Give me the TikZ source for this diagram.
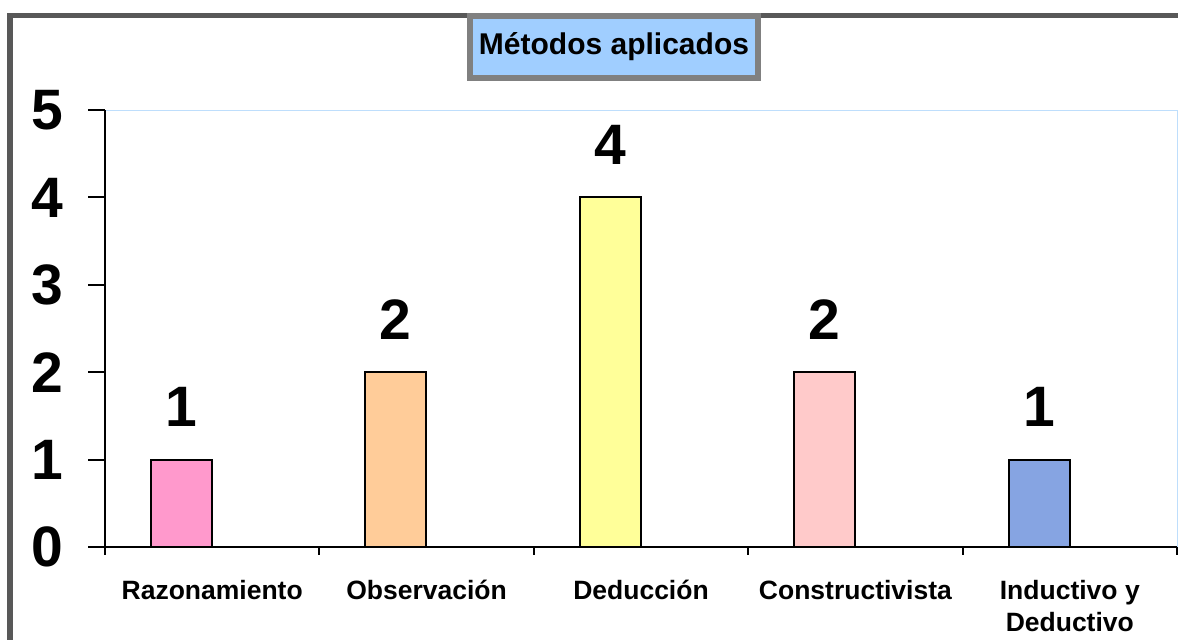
\documentclass[tikz,border=0pt]{standalone}
\usepackage{fontspec}
\setmainfont{Liberation Sans}
\usetikzlibrary{positioning}
\definecolor{framegray}{RGB}{88,88,88}
\definecolor{titlegray}{RGB}{128,128,128}
\definecolor{titleblue}{RGB}{160,206,255}
\definecolor{gridblue}{RGB}{190,222,252}
\definecolor{barpink}{RGB}{255,153,204}
\definecolor{barorange}{RGB}{255,204,153}
\definecolor{baryellow}{RGB}{255,255,153}
\definecolor{barrose}{RGB}{255,202,202}
\definecolor{barblue}{RGB}{134,164,226}
\tikzset{
  bar/.style={draw=black, line width=2pt, inner sep=0pt, outer sep=0pt,
    minimum width=61pt, anchor=south west},
  vallabel/.style={font=\bfseries\fontsize{57}{60}\selectfont, inner sep=0pt},
  ylabel/.style={font=\bfseries\fontsize{57}{60}\selectfont, inner sep=0pt, anchor=center},
  catlabel/.style={font=\bfseries\fontsize{26.5}{32}\selectfont, inner sep=0pt, anchor=base, align=center},
  axisline/.style={line width=2pt, black},
  titlebox/.style={draw=titlegray, fill=titleblue, line width=6pt, minimum width=288pt,
    minimum height=62pt, inner sep=0pt, font=\bfseries\fontsize{30}{34}\selectfont}
}
\begin{document}
\begin{tikzpicture}[x=1pt,y=-1pt]
\useasboundingbox (0,0) rectangle (1179,640);
% outer frame
\fill[framegray] (7,13) rectangle (13,640);
\fill[framegray] (7,13) rectangle (1178,18);
% plot area border
\draw[gridblue, line width=1pt] (105,110) -- (1177,110) -- (1177,547);
% bars
\node[bar, fill=barpink,   minimum height=87.4pt]  (b1) at (150.5,547) {};
\node[bar, fill=barorange, minimum height=174.8pt] (b2) at (365,547) {};
\node[bar, fill=baryellow, minimum height=349.6pt] (b3) at (579.5,547) {};
\node[bar, fill=barrose,   minimum height=174.8pt] (b4) at (794,547) {};
\node[bar, fill=barblue,   minimum height=87.4pt]  (b5) at (1008.5,547) {};
% value labels
\node[vallabel, above=33pt of b1.north] (v1) {1};
\node[vallabel, above=33pt of b2.north] (v2) {2};
\node[vallabel, above=33pt of b3.north] (v3) {4};
\node[vallabel, above=33pt of b4.north] (v4) {2};
\node[vallabel, above=33pt of b5.north] (v5) {1};
% axes
\draw[axisline] (105,110) -- (105,547);
\draw[axisline] (88,547) -- (1177,547);
\foreach \yy in {110,197.4,284.8,372.2,459.6}
  \draw[axisline] (88,\yy) -- (105,\yy);
\foreach \xx in {105,319.4,533.8,748.2,962.6,1177}
  \draw[axisline] (\xx,547) -- (\xx,555);
% y tick labels
\node[ylabel] (y0) at (47,547) {0};
\node[ylabel] (y1) at (47,459.6) {1};
\node[ylabel] (y2) at (47,372.2) {2};
\node[ylabel] (y3) at (47,284.8) {3};
\node[ylabel] (y4) at (47,197.4) {4};
\node[ylabel] (y5) at (47,110) {5};
% category labels
\node[catlabel] (c1) at (212.2,599) {Razonamiento};
\node[catlabel] (c2) at (426.6,599) {Observación};
\node[catlabel] (c3) at (641,599) {Deducción};
\node[catlabel] (c4) at (855.4,599) {Constructivista};
\node[catlabel] (c5) at (1069.8,631) {Inductivo y\\Deductivo};
% title
\node[titlebox] (title) at (614,47) {Métodos aplicados};
\end{tikzpicture}
\end{document}
